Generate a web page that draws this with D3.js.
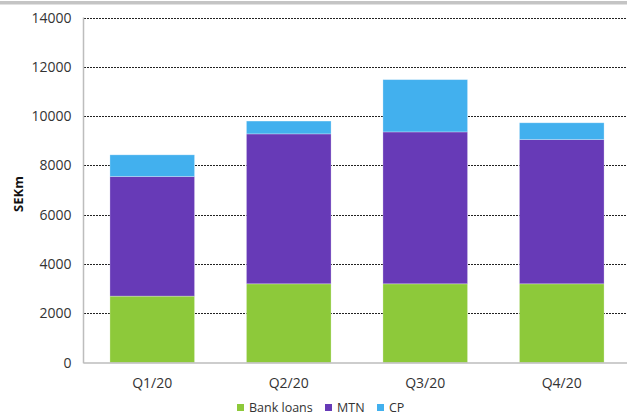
<!DOCTYPE html>
<html>
<head>
<meta charset="utf-8">
<script src="https://cdn.jsdelivr.net/npm/d3@7"></script>
<style>
  html, body { margin: 0; padding: 0; background: #fff; }
  svg { display: block; font-family: "Open Sans", "Noto Sans", sans-serif; }
</style>
</head>
<body>
<svg id="chart" width="627" height="417"></svg>
<script>
// Funding sources per quarter, SEKm
const quarters = ["Q1/20", "Q2/20", "Q3/20", "Q4/20"];
const bankLoans = [2700, 3200, 3200, 3200];
const mtn = [4850, 6080, 6160, 5850];
const cp = [880, 520, 2120, 680];
const seriesNames = ["Bank loans", "MTN", "CP"];
const seriesColors = ["#8dc93a", "#673ab7", "#42b0ee"];
const yTicks = [0, 2000, 4000, 6000, 8000, 10000, 12000, 14000];

(function () {
  const svg = d3.select("#chart");
  const W = 627;
  const plotLeft = 84, plotRight = 630, plotTop = 17.5, plotBottom = 362.7;

  // grey strip across the top
  svg.append("rect").attr("x", 0).attr("y", 1).attr("width", W).attr("height", 3.5).attr("fill", "#c4c4c4");

  const x = d3.scaleBand().domain(quarters).range([plotLeft, plotRight]).paddingInner(0.38).paddingOuter(0.19);
  const y = d3.scaleLinear().domain([0, 14000]).range([plotBottom, plotTop]);

  // dotted gridlines
  svg.append("g").selectAll("line").data(yTicks.filter(d => d > 0)).join("line")
    .attr("x1", plotLeft).attr("x2", W)
    .attr("y1", d => Math.round(y(d)) + 0.5).attr("y2", d => Math.round(y(d)) + 0.5)
    .attr("stroke", "#222").attr("stroke-width", 1).attr("stroke-dasharray", "2,1");

  // stacked bars
  const rows = quarters.map((q, i) => ({ q, "Bank loans": bankLoans[i], "MTN": mtn[i], "CP": cp[i] }));
  const stack = d3.stack().keys(seriesNames)(rows);

  svg.append("g").selectAll("g").data(stack).join("g")
    .attr("fill", (d, i) => seriesColors[i])
    .selectAll("rect").data(d => d).join("rect")
    .attr("x", d => x(d.data.q))
    .attr("width", x.bandwidth())
    .attr("y", d => y(d[1]))
    .attr("height", d => y(d[0]) - y(d[1]))
    .attr("stroke", "rgba(255,255,255,0.35)").attr("stroke-width", 0.8);

  // axis lines
  svg.append("line").attr("x1", plotLeft - 0.5).attr("x2", plotLeft - 0.5).attr("y1", plotTop).attr("y2", plotBottom + 0.5)
    .attr("stroke", "#bdbdbd").attr("stroke-width", 1.5);
  svg.append("line").attr("x1", plotLeft - 0.5).attr("x2", W).attr("y1", plotBottom + 0.3).attr("y2", plotBottom + 0.3)
    .attr("stroke", "#bdbdbd").attr("stroke-width", 1.5);

  // y tick labels
  svg.append("g").selectAll("text").data(yTicks).join("text")
    .attr("x", 71.5).attr("y", d => y(d) + 5)
    .attr("text-anchor", "end").attr("font-size", 14).attr("fill", "#333")
    .text(d => d);

  // y title
  svg.append("text").attr("transform", "translate(22.5,194) rotate(-90)")
    .attr("text-anchor", "middle").attr("font-size", 13).attr("font-weight", "bold").attr("fill", "#111")
    .text("SEKm");

  // category labels
  svg.append("g").selectAll("text").data(quarters).join("text")
    .attr("x", d => x(d) + x.bandwidth() / 2).attr("y", 388)
    .attr("text-anchor", "middle").attr("font-size", 14).attr("fill", "#333")
    .text(d => d);

  // legend
  const legendX = [237, 325, 377];
  const lg = svg.append("g").selectAll("g").data(seriesNames).join("g")
    .attr("transform", (d, i) => `translate(${legendX[i]},404)`);
  lg.append("rect").attr("width", 7).attr("height", 7).attr("fill", (d, i) => seriesColors[i]);
  lg.append("text").attr("x", 12).attr("y", 7.5).attr("font-size", 12.5).attr("fill", "#333").text(d => d);
})();
</script>
</body>
</html>
